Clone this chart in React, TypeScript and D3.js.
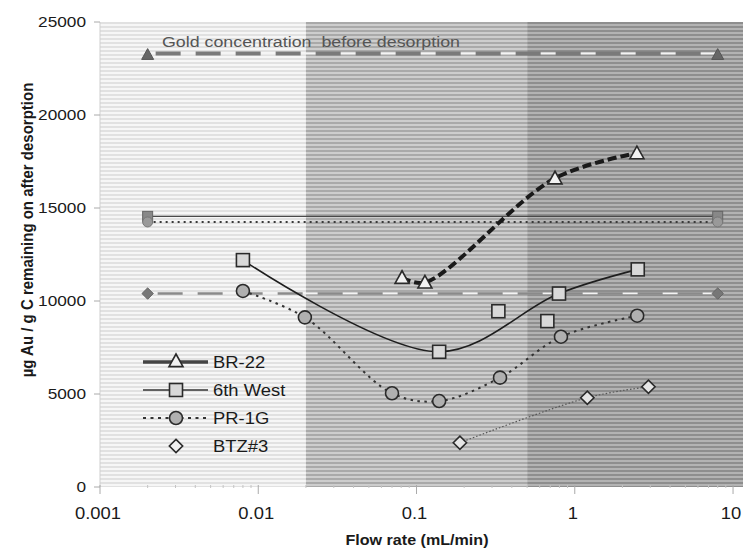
import React from 'react';
import * as d3 from 'd3';

// ---------- data ----------
const xTickValues = [0.001, 0.01, 0.1, 1, 10];
const xTickLabels = ['0.001', '0.01', '0.1', '1', '10'];
const yTickValues = [0, 5000, 10000, 15000, 20000, 25000];

// shaded regions (flow-rate bands)
const bandStart = [0.001, 0.02, 0.5];
const bandEnd = [0.02, 0.5, 11.56];

// initial concentrations (before desorption), drawn at both ends
const initX = [0.002, 8];
const goldInit = 23300;
const westInit = 14550;
const prInit = 14250;
const btzInit = 10400;

// series
const br22X = [0.081, 0.113, 0.75, 2.47];
const br22Y = [11250, 11000, 16600, 17950];

const westX = [0.008, 0.139, 0.329, 0.671, 0.795, 2.5];
const westY = [12200, 7270, 9450, 8920, 10400, 11700];
const westOnCurve = [true, true, false, false, true, true];

const prX = [0.008, 0.0197, 0.07, 0.139, 0.337, 0.818, 2.48];
const prY = [10540, 9120, 5040, 4620, 5880, 8080, 9210];

const btzX = [0.188, 1.2, 2.92];
const btzY = [2380, 4800, 5390];

const legendNames = ['BR-22', '6th West', 'PR-1G', 'BTZ#3'];

// ---------- layout ----------
const W = 746;
const H = 551;
const L = 100, R = 743, T = 22, B = 487;
const FONT = 'Liberation Sans, Arial, sans-serif';
const SX = 1.15;

function Txt({ x, y, children, anchor = 'start', size = 15, weight = 'normal', fill = '#1a1a1a', rotate = 0 }: any) {
  return (
    <text
      transform={`translate(${x},${y}) scale(${SX},1) rotate(${rotate})`}
      textAnchor={anchor}
      fontFamily={FONT}
      fontSize={size}
      fontWeight={weight}
      fill={fill}
      style={{ whiteSpace: 'pre' }}
    >
      {children}
    </text>
  );
}

function Marker({ kind, cx, cy, fill, stroke = '#2a2a2a', sw = 1.6, s = 6.5 }: any) {
  if (kind === 'tri') {
    const p = `${cx},${cy - s} ${cx + s},${cy + s * 0.8} ${cx - s},${cy + s * 0.8}`;
    return <polygon points={p} fill={fill} stroke={stroke} strokeWidth={sw} />;
  }
  if (kind === 'sq') {
    return <rect x={cx - s} y={cy - s} width={2 * s} height={2 * s} fill={fill} stroke={stroke} strokeWidth={sw} />;
  }
  if (kind === 'circ') {
    return <circle cx={cx} cy={cy} r={s} fill={fill} stroke={stroke} strokeWidth={sw} />;
  }
  const d = s * 0.95;
  const p = `${cx},${cy - d} ${cx + d},${cy} ${cx},${cy + d} ${cx - d},${cy}`;
  return <polygon points={p} fill={fill} stroke={stroke} strokeWidth={sw} />;
}

export default function App() {
  const x = d3.scaleLog().domain([0.001, 11.56]).range([L, R]);
  const y = d3.scaleLinear().domain([0, 25000]).range([B, T]);

  const smooth = d3
    .line<[number, number]>()
    .x((d) => x(d[0]))
    .y((d) => y(d[1]))
    .curve(d3.curveCatmullRom.alpha(0.5));

  const brPts = br22X.map((v, i) => [v, br22Y[i]] as [number, number]);
  const westPts = westX.map((v, i) => [v, westY[i]] as [number, number]);
  const westCurve = westPts.filter((_, i) => westOnCurve[i]);
  const prPts = prX.map((v, i) => [v, prY[i]] as [number, number]);
  const btzPts = btzX.map((v, i) => [v, btzY[i]] as [number, number]);

  const bandBase = ['#f6f6f6', '#cdcdcd', '#b3b3b3'];
  const bandStripe = ['#e1e1e1', '#a9a9a9', '#8e8e8e'];

  const minorTicks: number[] = [];
  for (let e = -3; e <= 1; e++) {
    for (let m = 2; m <= 9; m++) {
      const v = m * Math.pow(10, e);
      if (v < 11.5) minorTicks.push(v);
    }
  }

  const x0 = x(initX[0]);
  const x1 = x(initX[1]);

  const legRows = [362, 390, 418, 446];

  return (
    <svg width={W} height={H} style={{ position: 'absolute', left: 0, top: 0, background: '#fff' }}>
      <defs>
        {bandBase.map((c, i) => (
          <pattern key={i} id={`band${i}`} patternUnits="userSpaceOnUse" x={0} y={T} width={8} height={4}>
            <rect x={0} y={0} width={8} height={4} fill={c} />
            <rect x={0} y={0} width={8} height={2} fill={bandStripe[i]} />
          </pattern>
        ))}
      </defs>

      {/* background bands */}
      {bandStart.map((s, i) => (
        <rect key={i} x={x(s)} y={T} width={x(bandEnd[i]) - x(s)} height={B - T} fill={`url(#band${i})`} />
      ))}

      {/* axes */}
      <line x1={L} x2={L} y1={T} y2={B} stroke="#cfcfcf" strokeWidth={1} />
      {yTickValues.map((v) => (
        <g key={v}>
          <line x1={L - 6} x2={L} y1={y(v)} y2={y(v)} stroke="#aaa" strokeWidth={1} />
          <Txt x={86} y={y(v) + 5} anchor="end" size={15}>{String(v)}</Txt>
        </g>
      ))}
      {minorTicks.map((v, i) => (
        <line key={i} x1={x(v)} x2={x(v)} y1={B - 2} y2={B + 1} stroke="#c4c4c4" strokeWidth={1} />
      ))}
      {xTickValues.map((v, i) => (
        <g key={v}>
          <line x1={x(v)} x2={x(v)} y1={B - 2} y2={B + 7} stroke="#aaa" strokeWidth={1} />
          <Txt x={x(v) - 2} y={519} anchor="middle" size={16}>{xTickLabels[i]}</Txt>
        </g>
      ))}

      {/* reference lines: initial concentrations */}
      <line x1={x0} x2={x1} y1={y(goldInit)} y2={y(goldInit)} stroke="#f4f4f4" strokeWidth={2} />
      <line x1={x0} x2={x1} y1={y(goldInit)} y2={y(goldInit)} stroke="#7a7a7a" strokeWidth={4} strokeDasharray="25,15" strokeDashoffset={-8} />
      <line x1={x0} x2={x1} y1={y(westInit)} y2={y(westInit)} stroke="#4a4a4a" strokeWidth={1.4} />
      <line x1={x0} x2={x1} y1={y(prInit)} y2={y(prInit)} stroke="#3a3a3a" strokeWidth={2} strokeDasharray="2,4" />
      <line x1={x0} x2={x1} y1={y(btzInit)} y2={y(btzInit)} stroke="#f4f4f4" strokeWidth={1.5} />
      <line x1={x0} x2={x1} y1={y(btzInit)} y2={y(btzInit)} stroke="#8a8a8a" strokeWidth={2.5} strokeDasharray="25,15" strokeDashoffset={-10} />

      {initX.map((v, i) => (
        <g key={i}>
          <Marker kind="tri" cx={x(v)} cy={y(goldInit) + 1} fill="#666" stroke="#555" sw={1} s={6} />
          <Marker kind="sq" cx={x(v)} cy={y(westInit)} fill="#888" stroke="#666" sw={1} s={5} />
          <Marker kind="circ" cx={x(v)} cy={y(prInit)} fill="#999" stroke="#777" sw={1} s={5} />
          <Marker kind="dia" cx={x(v)} cy={y(btzInit)} fill="#777" stroke="#666" sw={1} s={6} />
        </g>
      ))}

      <Txt x={162} y={47} fill="#555" size={15.5}>{'Gold concentration  before desorption'}</Txt>

      {/* series lines */}
      <path d={smooth(btzPts) || ''} fill="none" stroke="#555" strokeWidth={1.2} strokeDasharray="1.5,2" />
      <path d={smooth(prPts) || ''} fill="none" stroke="#333" strokeWidth={2} strokeDasharray="2.5,4.5" />
      <path d={smooth(westCurve) || ''} fill="none" stroke="#1e1e1e" strokeWidth={1.6} />
      <path d={smooth(brPts) || ''} fill="none" stroke="#1a1a1a" strokeWidth={4} strokeDasharray="9,4" />

      {/* series markers */}
      {btzPts.map((p, i) => (
        <Marker key={i} kind="dia" cx={x(p[0])} cy={y(p[1])} fill="#e6e6e6" s={7} />
      ))}
      {prPts.map((p, i) => (
        <Marker key={i} kind="circ" cx={x(p[0])} cy={y(p[1])} fill="#b0b0b0" s={6.5} />
      ))}
      {westPts.map((p, i) => (
        <Marker key={i} kind="sq" cx={x(p[0])} cy={y(p[1])} fill="#d8d8d8" s={6.5} />
      ))}
      {brPts.map((p, i) => (
        <Marker key={i} kind="tri" cx={x(p[0])} cy={y(p[1])} fill="#f2f2f2" s={7} />
      ))}

      {/* legend */}
      <g>
        <line x1={143} x2={208} y1={legRows[0]} y2={legRows[0]} stroke="#444" strokeWidth={3.5} />
        <Marker kind="tri" cx={176} cy={legRows[0] - 1} fill="#f2f2f2" s={7} />
        <line x1={143} x2={208} y1={legRows[1]} y2={legRows[1]} stroke="#333" strokeWidth={1.6} />
        <Marker kind="sq" cx={176} cy={legRows[1]} fill="#d8d8d8" s={6.5} />
        <line x1={143} x2={208} y1={legRows[2]} y2={legRows[2]} stroke="#333" strokeWidth={2} strokeDasharray="3,4.5" />
        <Marker kind="circ" cx={176} cy={legRows[2]} fill="#b0b0b0" s={6.5} />
        <Marker kind="dia" cx={176} cy={legRows[3]} fill="#f2f2f2" s={7} />
        {legendNames.map((n, i) => (
          <Txt key={n} x={213} y={legRows[i] + 6} size={16}>{n}</Txt>
        ))}
      </g>

      {/* axis titles */}
      <Txt x={417} y={545} anchor="middle" size={14} weight="bold">Flow rate (mL/min)</Txt>
      <text
        transform={`translate(33,230) scale(${SX},1) rotate(-90)`}
        textAnchor="middle"
        fontFamily={FONT}
        fontSize={15}
        fontWeight="bold"
        fill="#1a1a1a"
      >
        µg Au / g C remaining on after desorption
      </text>
    </svg>
  );
}
